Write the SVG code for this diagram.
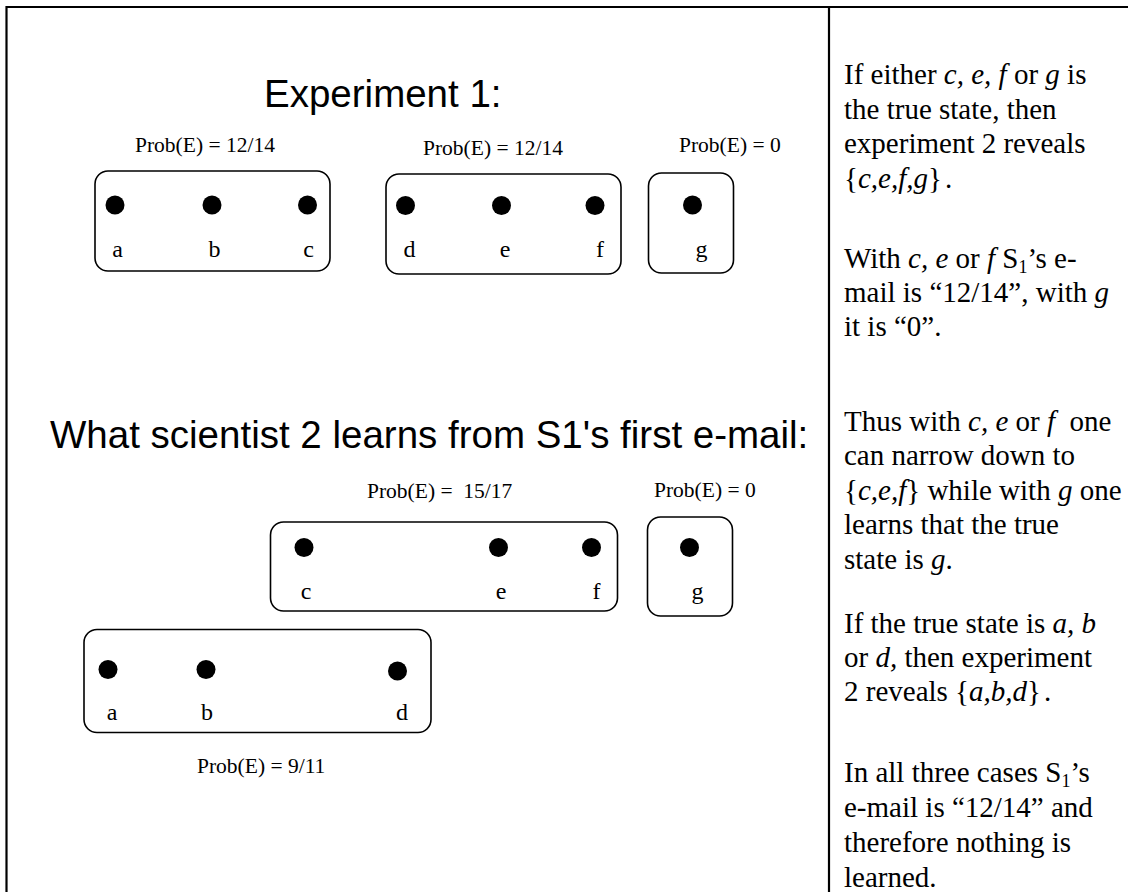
<svg xmlns="http://www.w3.org/2000/svg" width="1128" height="892" viewBox="0 0 1128 892">
<style>
.frame{stroke:#000;stroke-width:2.2;fill:none}
.box{fill:#fff;stroke:#000;stroke-width:1.6}
.dot{fill:#000}
.lbl{font-family:"Liberation Serif","Times New Roman",serif;font-size:24px;fill:#000;text-anchor:middle}
.prob{font-family:"Liberation Serif","Times New Roman",serif;font-size:21.5px;fill:#000}
.title{font-family:"Liberation Sans",Arial,sans-serif;font-size:38.5px;fill:#000}
.txt{font-family:"Liberation Serif","Times New Roman",serif;font-size:29px;fill:#000}
.i{font-style:italic}
</style>
<rect width="1128" height="892" fill="#fff"/>
<g id="frame">
<line class="frame" x1="6" y1="7" x2="1128" y2="7"/>
<line class="frame" x1="6.5" y1="6" x2="6.5" y2="892"/>
<line class="frame" x1="829" y1="6" x2="829" y2="892"/>
</g>
<g id="connectors"/>
<text class="title" x="264" y="107">Experiment 1:</text>
<g id="exp1-abc">
<text class="prob" x="135" y="152">Prob(E) = 12/14</text>
<rect class="box" x="95" y="171" width="235" height="100" rx="13"/>
<circle class="dot" cx="115" cy="205" r="9.5"/><circle class="dot" cx="212" cy="205" r="9.5"/><circle class="dot" cx="307.5" cy="205" r="9.5"/>
<text class="lbl" x="117.5" y="257">a</text><text class="lbl" x="214.5" y="257">b</text><text class="lbl" x="308.5" y="257">c</text>
</g>
<g id="exp1-def">
<text class="prob" x="423" y="155">Prob(E) = 12/14</text>
<rect class="box" x="386" y="174" width="235" height="100" rx="13"/>
<circle class="dot" cx="405.5" cy="205.5" r="9.5"/><circle class="dot" cx="501.5" cy="205.5" r="9.5"/><circle class="dot" cx="595" cy="205.5" r="9.5"/>
<text class="lbl" x="409.5" y="257">d</text><text class="lbl" x="505" y="257">e</text><text class="lbl" x="600" y="257">f</text>
</g>
<g id="exp1-g">
<text class="prob" x="679" y="151.5">Prob(E) = 0</text>
<rect class="box" x="648.5" y="173" width="85" height="100" rx="13"/>
<circle class="dot" cx="692.5" cy="205" r="9.5"/>
<text class="lbl" x="701.5" y="257">g</text>
</g>
<text class="title" x="50" y="448">What scientist 2 learns from S1's first e-mail:</text>
<g id="s2-cef">
<text class="prob" x="367" y="498" xml:space="preserve">Prob(E) =  15/17</text>
<rect class="box" x="270.5" y="522" width="347" height="89" rx="13"/>
<circle class="dot" cx="304" cy="547.5" r="9.5"/><circle class="dot" cx="498.5" cy="547.5" r="9.5"/><circle class="dot" cx="591.5" cy="547.5" r="9.5"/>
<text class="lbl" x="306" y="598.5">c</text><text class="lbl" x="501" y="598.5">e</text><text class="lbl" x="596.5" y="598.5">f</text>
</g>
<g id="s2-g">
<text class="prob" x="654" y="497">Prob(E) = 0</text>
<rect class="box" x="647.5" y="517" width="85" height="99" rx="13"/>
<circle class="dot" cx="689.5" cy="547.5" r="9.5"/>
<text class="lbl" x="697.5" y="598.5">g</text>
</g>
<g id="s2-abd">
<rect class="box" x="84" y="629.5" width="347" height="103" rx="13"/>
<circle class="dot" cx="108" cy="669.5" r="9.5"/><circle class="dot" cx="206" cy="669.5" r="9.5"/><circle class="dot" cx="397.5" cy="671" r="9.5"/>
<text class="lbl" x="112" y="720">a</text><text class="lbl" x="207" y="720">b</text><text class="lbl" x="402" y="720">d</text>
<text class="prob" x="197" y="773">Prob(E) = 9/11</text>
</g>
<g id="explanation" class="txt">
<text x="844" y="84">If either <tspan class="i">c, e, f</tspan> or <tspan class="i">g</tspan> is</text>
<text x="844" y="119">the true state, then</text>
<text x="844" y="153">experiment 2 reveals</text>
<text x="844" y="188">{<tspan class="i">c,e,f,g</tspan>}<tspan dx="3">.</tspan></text>
<text x="844" y="268">With <tspan class="i">c, e</tspan> or <tspan class="i">f</tspan> S<tspan font-size="18" dy="5">1</tspan><tspan dy="-5">’s e-</tspan></text>
<text x="844" y="302">mail is “12/14”, with <tspan class="i">g</tspan></text>
<text x="844" y="336">it is “0”.</text>
<text x="844" y="431" xml:space="preserve">Thus with <tspan class="i">c, e</tspan> or <tspan class="i">f</tspan>  one</text>
<text x="844" y="465">can narrow down to</text>
<text x="844" y="500">{<tspan class="i">c,e,f</tspan>} while with <tspan class="i">g</tspan> one</text>
<text x="844" y="534">learns that the true</text>
<text x="844" y="569">state is <tspan class="i">g</tspan>.</text>
<text x="844" y="633">If the true state is <tspan class="i">a, b</tspan></text>
<text x="844" y="667">or <tspan class="i">d,</tspan> then experiment</text>
<text x="844" y="701">2 reveals {<tspan class="i">a,b,d</tspan>}<tspan dx="3">.</tspan></text>
<text x="844" y="782">In all three cases S<tspan font-size="18" dy="5">1</tspan><tspan dy="-5">’s</tspan></text>
<text x="844" y="817">e-mail is “12/14” and</text>
<text x="844" y="852">therefore nothing is</text>
<text x="844" y="887">learned.</text>
</g>
</svg>
